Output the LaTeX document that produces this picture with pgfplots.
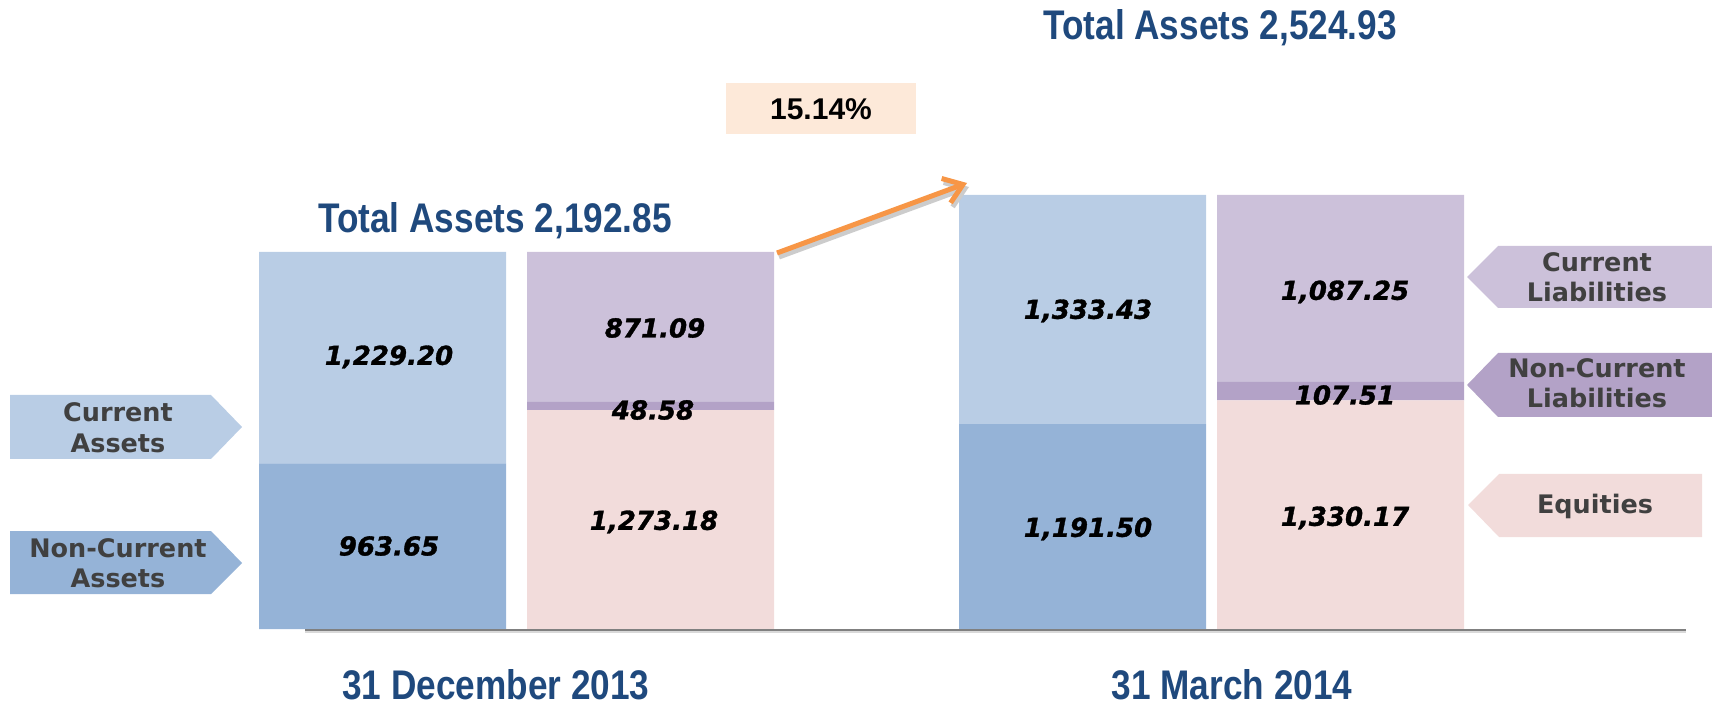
\documentclass[border=0pt]{standalone}
\usepackage{pgfplots}
\pgfplotsset{compat=1.18}
\usepackage{fontspec}
\usetikzlibrary{arrows.meta}
\setmainfont{DejaVu Sans}
\newfontfamily\titlefont{Liberation Sans}[FakeStretch=0.85]
\newfontfamily\pctfont{Liberation Sans}
\newfontfamily\valfont{DejaVu Sans}[BoldItalicFeatures={FakeBold=1.3}]
\definecolor{ca}{HTML}{B9CDE5}
\definecolor{nca}{HTML}{95B3D7}
\definecolor{cl}{HTML}{CCC1DA}
\definecolor{ncl}{HTML}{B3A2C7}
\definecolor{eq}{HTML}{F2DCDB}
\definecolor{navy}{HTML}{1F497D}
\definecolor{pct}{HTML}{FDE9D9}
\definecolor{arr}{HTML}{F79646}
\definecolor{lab}{HTML}{404040}
\begin{document}
\begin{tikzpicture}
\useasboundingbox (0,0) rectangle (856pt,353.5pt);
\begin{axis}[at={(0,0)},anchor=south west,scale only axis,
  width=856pt,height=353.5pt,
  xmin=0,xmax=1712,ymin=-453.7,ymax=3658.6,
  hide axis,ybar stacked,bar width=247,clip=false]
% Non-current assets / Equities (bottom layers)
\addplot[fill=nca,draw=none] coordinates {(382.5,963.65) (650.5,0) (1082.5,1191.50) (1340.5,0)};
\addplot[fill=eq,draw=none] coordinates {(382.5,0) (650.5,1273.18) (1082.5,0) (1340.5,1330.17)};
% Current assets / Non-current liabilities
\addplot[fill=ca,draw=none] coordinates {(382.5,1229.20) (650.5,0) (1082.5,1333.43) (1340.5,0)};
\addplot[fill=ncl,draw=none] coordinates {(382.5,0) (650.5,48.58) (1082.5,0) (1340.5,107.51)};
% Current liabilities
\addplot[fill=cl,draw=none] coordinates {(382.5,0) (650.5,871.09) (1082.5,0) (1340.5,1087.25)};
\end{axis}
\begin{scope}[yshift=353.5pt,x=0.5pt,y=-0.5pt]
% baseline
\draw[black!15,line width=1.2pt] (305,632) -- (1686,632);
\draw[black!50,line width=0.8pt] (305,630) -- (1686,630);
% titles
\node[anchor=base,inner sep=0pt,text=navy,font=\titlefont\bfseries\fontsize{20.7}{24}\selectfont] at (495,233) {Total Assets 2,192.85};
\node[anchor=base,inner sep=0pt,text=navy,font=\titlefont\bfseries\fontsize{20.7}{24}\selectfont] at (1220,40) {Total Assets 2,524.93};
\node[anchor=base,inner sep=0pt,text=navy,font=\titlefont\bfseries\fontsize{20.7}{24}\selectfont] at (496,699) {31 December 2013};
\node[anchor=base,inner sep=0pt,text=navy,font=\titlefont\bfseries\fontsize{20.7}{24}\selectfont] at (1232,699) {31 March 2014};
% percentage box and arrow
\fill[pct] (726,83) rectangle (916,134);
\node[font=\pctfont\bfseries\fontsize{15}{18}\selectfont] at (821,109) {15.14\%};
\draw[black!20,line width=2.5pt,-{Straight Barb[length=9pt,width=13pt]}] (779,257) -- (969,187);
\draw[arr,line width=2.5pt,-{Straight Barb[length=9pt,width=13pt]}] (777,253) -- (967,183);
% value labels
\begin{scope}[every node/.style={font=\valfont\bfseries\itshape\fontsize{13}{15}\selectfont}]
\node at (389,357) {1,229.20};
\node at (389,546) {963.65};
\node at (655,328) {871.09};
\node at (653,410) {48.58};
\node at (654,522) {1,273.18};
\node at (1088,311) {1,333.43};
\node at (1088,529) {1,191.50};
\node at (1345,292) {1,087.25};
\node at (1345,395) {107.51};
\node at (1345,518) {1,330.17};
\end{scope}
% side labels
\fill[ca] (10,395) -- (211,395) -- (242,427) -- (211,459) -- (10,459) -- cycle;
\fill[nca] (10,531) -- (211,531) -- (242,563) -- (211,594) -- (10,594) -- cycle;
\fill[cl] (1467,277) -- (1498,246) -- (1712,246) -- (1712,308) -- (1498,308) -- cycle;
\fill[ncl] (1467,385) -- (1498,353) -- (1712,353) -- (1712,417) -- (1498,417) -- cycle;
\fill[eq] (1468,505) -- (1499,474) -- (1702,474) -- (1702,537) -- (1499,537) -- cycle;
\begin{scope}[every node/.style={anchor=base,text=lab,font=\bfseries\fontsize{12.75}{15}\selectfont}]
\node at (118,422) {Current};
\node at (118,453) {Assets};
\node at (118,557) {Non-Current};
\node at (118,587) {Assets};
\node at (1597,272) {Current};
\node at (1597,302) {Liabilities};
\node at (1597,378) {Non-Current};
\node at (1597,408) {Liabilities};
\node at (1595,514) {Equities};
\end{scope}
\end{scope}
\end{tikzpicture}
\end{document}
